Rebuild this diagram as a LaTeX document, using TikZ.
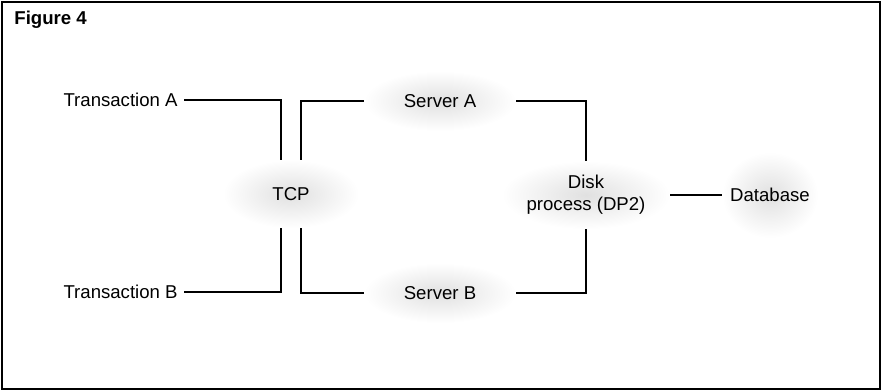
\documentclass[tikz,border=0pt]{standalone}
\usepackage{fontspec}
\setmainfont{Liberation Sans}
\usetikzlibrary{shapes.geometric, positioning}

\begin{document}
\begin{tikzpicture}[x=0.5pt, y=-0.5pt, font=\fontsize{9.3pt}{11pt}\selectfont]
        \tikzstyle{blob} = [ellipse, inner sep=0pt, shading=radial, inner color=gray!24, outer color=white]
        \tikzstyle{txt} = [inner sep=3pt]
        \tikzstyle{link} = [line width=0.65pt]
        \useasboundingbox (0,0) rectangle (882,391);
        \draw[line width=0.8pt] (2,2) rectangle (880,389);
        \node[txt, anchor=west, font=\fontsize{9.3pt}{11pt}\selectfont\bfseries] (fig) at (8,20) {Figure 4};
        % clouds
        \node[blob, minimum width=68pt, minimum height=34pt] (tcp) at (291,194) {TCP};
        \node[blob, minimum width=76pt, minimum height=30pt] (sa) at (440,101) {Server A};
        \node[blob, minimum width=76pt, minimum height=30pt] (sb) at (440,293) {Server B};
        \node[blob, minimum width=75pt, minimum height=34pt, align=center] (dp) at (586,195) {Disk\\process (DP2)};
        \node[rectangle, rounded corners=6pt, shading=radial, inner color=gray!24, outer color=white, minimum width=48pt, minimum height=43pt, inner sep=0pt] (db) at (770,195) {Database};
        \node[txt, anchor=east] (ta) at (184,100) {Transaction A};
        \node[txt, anchor=east] (tb) at (184,292) {Transaction B};
        % lines
        \draw[link] (ta.east) -| ([xshift=-5pt]tcp.north);
        \draw[link] (tb.east) -| ([xshift=-5pt]tcp.south);
        \draw[link] ([xshift=5pt]tcp.north) |- (sa.west);
        \draw[link] ([xshift=5pt]tcp.south) |- (sb.west);
        \draw[link] (sa.east) -| (dp.north);
        \draw[link] (sb.east) -| (dp.south);
        \draw[link] (dp.east) -- (db.west);
      \end{tikzpicture}
\end{document}
